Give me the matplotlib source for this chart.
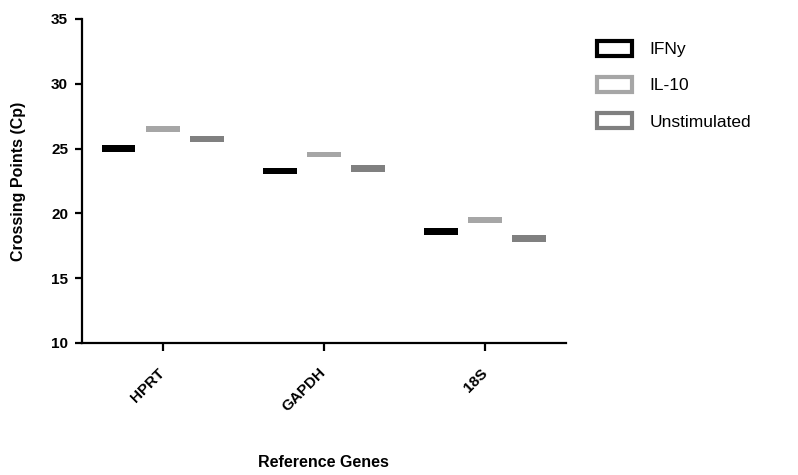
import numpy as np
import matplotlib.pyplot as plt
from matplotlib.patches import Patch

plt.rcParams['font.family'] = ['Liberation Sans', 'DejaVu Sans']

# Дані: гени та межі (min, max) для кожної умови
genes = ["HPRT", "GAPDH", "18S"]
groups = ["IFNy", "IL-10", "Unstimulated"]
ifn_low = [24.75, 23.02, 18.31]
ifn_high = [25.28, 23.48, 18.85]
il10_low = [26.26, 24.33, 19.22]
il10_high = [26.74, 24.70, 19.70]
unst_low = [25.49, 23.19, 17.77]
unst_high = [25.97, 23.75, 18.33]
colors = ["#000000", "#a6a6a6", "#808080"]

lows = [ifn_low, il10_low, unst_low]
highs = [ifn_high, il10_high, unst_high]

fig = plt.figure(figsize=(7.98, 4.75), dpi=100)
ax = fig.add_axes([0.1028, 0.278, 0.606, 0.682])

x = np.arange(len(genes))
width = 0.21
offsets = [-0.274, 0.0, 0.274]
for lo, hi, off, c in zip(lows, highs, offsets, colors):
    lo = np.array(lo)
    hi = np.array(hi)
    ax.bar(x + off, hi - lo, bottom=lo, width=width, color=c, edgecolor='none')

ax.set_xlim(-0.5, 2.5)
ax.set_ylim(10, 35)
ax.set_yticks([10, 15, 20, 25, 30, 35])
ax.set_xticks(x)
ax.set_xticklabels(genes, rotation=45, ha='right', va='center', rotation_mode='anchor',
                   fontweight='bold', fontsize=11)
for lab in ax.get_yticklabels():
    lab.set_fontweight('bold')
    lab.set_fontsize(11)

for side in ['top', 'right']:
    ax.spines[side].set_visible(False)
for side in ['left', 'bottom']:
    ax.spines[side].set_linewidth(1.6)
ax.tick_params(axis='y', length=5, width=1.6, pad=5)
ax.tick_params(axis='x', length=6, width=1.6, pad=14)

ax.set_ylabel("Crossing Points (Cp)", fontweight='bold', fontsize=11.5, va='center')
ax.yaxis.set_label_coords(-0.132, 0.5)
ax.set_xlabel("Reference Genes", fontweight='bold', fontsize=11.5, va='center')
ax.xaxis.set_label_coords(0.5, -0.37)

handles = [Patch(facecolor='white', edgecolor=c, linewidth=3) for c in colors]
fig.legend(handles, groups, loc='upper left', bbox_to_anchor=(0.74, 0.928),
           frameon=False, fontsize=12.5, handlelength=2.0, handleheight=0.9,
           labelspacing=1.15, handletextpad=1.0, borderaxespad=0)

fig.savefig("out.png", dpi=100)
